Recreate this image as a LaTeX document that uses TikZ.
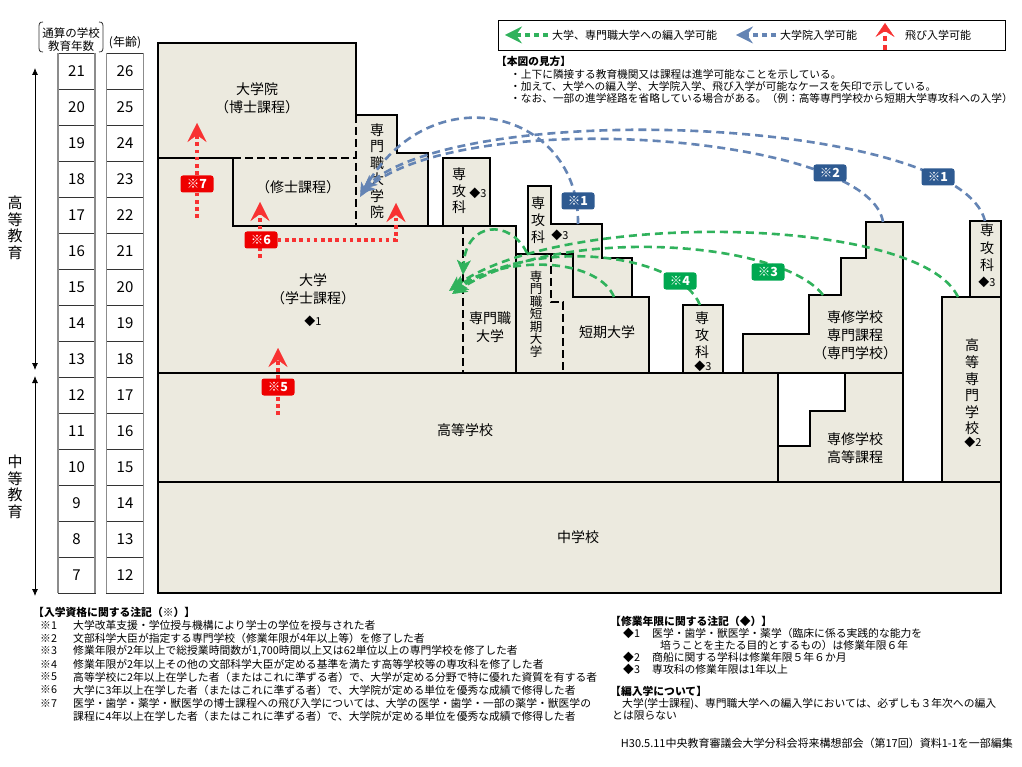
\documentclass[tikz,border=0pt]{standalone}
\usepackage{fontspec}
\setmainfont{Noto Sans CJK JP}
\usetikzlibrary{arrows.meta}
\definecolor{blockfill}{RGB}{236,234,223}
\definecolor{gArrow}{RGB}{48,178,92}
\definecolor{gLabel}{RGB}{0,168,80}
\definecolor{bArrow}{RGB}{100,132,180}
\definecolor{bLabel}{RGB}{46,90,145}
\definecolor{rArrow}{RGB}{248,50,50}
\definecolor{rLabel}{RGB}{238,0,0}
\newcommand{\myfs}[2]{\fontsize{#1}{#2}\selectfont}
\tikzset{
 blk/.style={fill=blockfill, draw=black, line width=2.8pt, line join=miter},
 sepline/.style={draw=black, line width=2.8pt},
 divd/.style={draw=black, line width=2.3pt, dash pattern=on 8pt off 4pt},
 lbl/.style={inner sep=0pt, align=center, font=\myfs{14}{18}},
 vlbl/.style={inner sep=0pt, align=center, font=\myfs{14}{16.5}},
 dia/.style={inner sep=0pt, font=\myfs{11}{12}},
 garr/.style={draw=gArrow, line width=2.6pt, dash pattern=on 8pt off 5pt, -{Stealth[length=15pt,width=14pt,inset=4pt,line width=0.4pt]}},
 barr/.style={draw=bArrow, line width=2.6pt, dash pattern=on 8pt off 5pt, -{Stealth[length=14pt,width=13pt,inset=4pt,line width=0.4pt]}},
 rline/.style={draw=rArrow, line width=3.6pt, dash pattern=on 3.6pt off 3.6pt},
 rarr/.style={rline, -{Stealth[length=19pt,width=19pt,inset=7pt,line width=0.4pt]}},
 lab/.style={rounded corners=2.5pt, text=white, font=\bfseries\myfs{12.5}{13}, minimum width=33pt, minimum height=17pt, inner sep=0pt},
 glab/.style={lab, fill=gLabel},
 blab/.style={lab, fill=bLabel},
 rlab/.style={lab, fill=rLabel},
 note/.style={anchor=west, inner sep=0pt, font=\myfs{10.8}{12}},
 tnote/.style={anchor=west, inner sep=0pt, font=\myfs{10.7}{12}},
 cell/.style={draw=black!80, line width=0.7pt, minimum width=37pt, minimum height=36pt, inner sep=0pt, font=\myfs{15}{16}},
 bigarr/.style={draw=black, line width=0.8pt, {Latex[length=7pt,width=6pt]}-{Latex[length=7pt,width=6pt]}},
 legg/.style={draw=gArrow, line width=4.5pt, dash pattern=on 5pt off 4pt, -{Stealth[length=17pt,width=17pt,inset=6pt,line width=0.4pt]}},
 legb/.style={draw=bArrow, line width=4.5pt, dash pattern=on 5pt off 4pt, -{Stealth[length=17pt,width=17pt,inset=6pt,line width=0.4pt]}},
 legr/.style={draw=rArrow, line width=4.5pt, dash pattern=on 5pt off 4pt, -{Stealth[length=14pt,width=19pt,inset=6pt,line width=0.4pt]}}
}
\begin{document}
\begin{tikzpicture}[x=1pt,y=-1pt]
\useasboundingbox (0,0) rectangle (1022,767);
\fill[white] (0,0) rectangle (1022,767);

% ---------- left scale ----------
\node[inner sep=0pt, align=center, font=\myfs{11.5}{13}] (hdr1) at (71,40) {通算の学校\\教育年数};
\draw[black!80, line width=0.8pt] (43,22) .. controls (39,22) and (39,24) .. (39,28) -- (39,46) .. controls (39,50) and (39,52) .. (43,52);
\draw[black!80, line width=0.8pt] (99,22) .. controls (103,22) and (103,24) .. (103,28) -- (103,46) .. controls (103,50) and (103,52) .. (99,52);
\node[inner sep=0pt, font=\myfs{12}{13}] (hdr2) at (125,43) {(年齢)};
\foreach \n in {7,...,21} {
  \pgfmathsetmacro{\yc}{53+(21-\n)*36+18}
  \pgfmathtruncatemacro{\ag}{\n+5}
  \node[cell] (y\n) at (76.5,\yc) {\n};
  \node[cell] (a\n) at (125,\yc) {\ag};
}
\draw[black!45, line width=1.6pt] (58,53) -- (58,593) (95,53) -- (95,593) (106.5,53) -- (106.5,593) (143.5,53) -- (143.5,593);
\coordinate (ha1) at (35,68); \coordinate (ha2) at (35,370);
\coordinate (ma1) at (35,376); \coordinate (ma2) at (35,596);
\draw[bigarr] (ha1) -- (ha2);
\draw[bigarr] (ma1) -- (ma2);
\node[vlbl, font=\myfs{15}{16.5}] (kt) at (15,228) {高\\等\\教\\育};
\node[vlbl, font=\myfs{15}{16.5}] (ct) at (15,487) {中\\等\\教\\育};

% ---------- blocks ----------
\path[blk] (158,43) -- (356,43) -- (356,115) -- (397,115) -- (397,153) -- (428,153) -- (428,226) -- (516,226) -- (516,373) -- (158,373) -- cycle;
\draw[sepline] (158,158) -- (233,158) -- (233,226) -- (428,226);
\draw[divd] (233,158) -- (356,158);
\draw[divd] (356,115) -- (356,226);
\draw[divd] (463,226) -- (463,373);
\path[blk] (443,158) rectangle (490,226);
\path[blk] (516,254) -- (573,254) -- (573,297) -- (649,297) -- (649,373) -- (516,373) -- cycle;
\path[blk] (528,186) -- (551,186) -- (551,224) -- (602,224) -- (602,258) -- (632,258) -- (632,297) -- (573,297) -- (573,254) -- (528,254) -- cycle;
\draw[divd] (551,254) -- (551,302) -- (563,302) -- (563,373);
\path[blk] (683,305) rectangle (723,373);
\path[blk] (743,373) -- (743,334) -- (809,334) -- (809,295) -- (841,295) -- (841,258) -- (866,258) -- (866,222) -- (903,222) -- (903,373) -- cycle;
\path[blk] (942,482) -- (942,297) -- (970,297) -- (970,221) -- (1001,221) -- (1001,482) -- cycle;
\draw[sepline] (970,297) -- (1001,297);
\path[blk] (158,373) rectangle (778,482);
\path[blk] (845,373) -- (903,373) -- (903,482) -- (778,482) -- (778,446) -- (810,446) -- (810,411) -- (845,411) -- cycle;
\path[blk] (158,482) rectangle (1001,593);

% ---------- block texts ----------
\node[lbl] (t1) at (257,98) {大学院\\（博士課程）};
\node[lbl] (t2) at (298,187) {（修士課程）};
\node[vlbl] (t3) at (377,171) {専\\門\\職\\大\\学\\院};
\node[vlbl] (t4) at (459,191) {専\\攻\\科};
\node[dia] (d4) at (478,193) {◆3};
\node[lbl] (t5) at (313,289) {大学\\（学士課程）};
\node[dia] (d5) at (313,321) {◆1};
\node[lbl] (t6) at (490,327) {専門職\\大学};
\node[vlbl, font=\myfs{14}{17}] (t7) at (538,220) {専\\攻\\科};
\node[dia] (d7) at (560,235) {◆3};
\node[vlbl, font=\myfs{12.5}{12.5}] (t8) at (536,314) {専\\門\\職\\短\\期\\大\\学};
\node[lbl] (t9) at (607,332) {短期大学};
\node[vlbl, font=\myfs{14}{17}] (t10) at (702,335) {専\\攻\\科};
\node[dia] (d10) at (703,366) {◆3};
\node[lbl] (t11) at (855,335) {専修学校\\専門課程\\（専門学校）};
\node[vlbl, font=\myfs{14}{17.5}] (t12) at (987,248) {専\\攻\\科};
\node[dia] (d12) at (987,282) {◆3};
\node[vlbl, font=\myfs{14}{16.6}] (t13) at (972,387) {高\\等\\専\\門\\学\\校};
\node[dia] (d13) at (973,442) {◆2};
\node[lbl] (t14) at (465,430) {高等学校};
\node[lbl] (t15) at (855,448) {専修学校\\高等課程};
\node[lbl] (t16) at (578,537) {中学校};

% ---------- blue arrows ----------
\coordinate (bs1) at (578,224); \coordinate (be1) at (360,197);
\coordinate (bs2) at (883,222); \coordinate (be2) at (361,193);
\coordinate (bs3) at (985,221); \coordinate (be3) at (363,189);
\draw[barr] (bs1) .. controls (580,110) and (430,72) .. (be1);
\draw[barr] (bs2) .. controls (870,135) and (470,105) .. (be2);
\draw[barr] (bs3) .. controls (960,118) and (470,98) .. (be3);
\node[blab] (b1) at (578,201) {※1};
\node[blab] (b2) at (830,173) {※2};
\node[blab] (b3) at (938,177) {※1};

% ---------- green arrows ----------
\coordinate (gs1) at (527,253); \coordinate (ge1) at (463,275);
\coordinate (gs2) at (614,297); \coordinate (ge2) at (451,289);
\coordinate (gs3) at (700,305); \coordinate (ge3) at (453,292);
\coordinate (gs4) at (823,295); \coordinate (ge4) at (452,294);
\coordinate (gs5) at (958,297); \coordinate (ge5) at (449,291);
\draw[garr] (gs1) .. controls (510,218) and (466,222) .. (ge1);
\draw[garr] (gs2) .. controls (600,262) and (520,252) .. (ge2);
\draw[garr] (gs3) .. controls (680,255) and (540,235) .. (ge3);
\draw[garr] (gs4) .. controls (780,240) and (560,225) .. (ge4);
\draw[garr] (gs5) .. controls (920,215) and (560,210) .. (ge5);
\node[glab] (g4) at (680,281) {※4};
\node[glab] (g3) at (768,272) {※3};

% ---------- red jump arrows ----------
\coordinate (r7s) at (197,218); \coordinate (r7e) at (197,123);
\draw[rarr] (r7s) -- (r7e);
\node[rlab] (r7) at (197,184) {※7};
\coordinate (r6s) at (260,258); \coordinate (r6e) at (260,202);
\coordinate (r6c) at (396,240); \coordinate (r6f) at (396,203);
\draw[rarr] (r6s) -- (r6e);
\node[rlab] (r6) at (261,240) {※6};
\draw[rarr] (r6.east) -- (r6c) -- (r6f);
\coordinate (r5s) at (278,415); \coordinate (r5e) at (278,348);
\draw[rarr] (r5s) -- (r5e);
\node[rlab] (r5) at (278,387) {※5};

% ---------- legend ----------
\node[draw=black, line width=1pt, minimum width=507pt, minimum height=30pt, inner sep=0pt, anchor=north west] (leg) at (498,20) {};
\coordinate (lg1) at (548,35); \coordinate (lg2) at (505,35);
\draw[legg] (lg1) -- (lg2);
\node[anchor=west, inner sep=0pt, font=\myfs{11}{12}] (lt1) at (552,35) {大学、専門職大学への編入学可能};
\coordinate (lb1) at (776,35); \coordinate (lb2) at (736,35);
\draw[legb] (lb1) -- (lb2);
\node[anchor=west, inner sep=0pt, font=\myfs{11}{12}] (lt2) at (780,35) {大学院入学可能};
\coordinate (lr1) at (885,50); \coordinate (lr2) at (885,23);
\draw[legr] (lr1) -- (lr2);
\node[anchor=west, inner sep=0pt, font=\myfs{11}{12}] (lt3) at (905,35) {飛び入学可能};

\node[tnote, font=\bfseries\myfs{10.7}{12}] (v0) at (496,61) {【本図の見方】};
\node[tnote] (v1) at (510,74) {・上下に隣接する教育機関又は課程は進学可能なことを示している。};
\node[tnote] (v2) at (510,86) {・加えて、大学への編入学、大学院入学、飛び入学が可能なケースを矢印で示している。};
\node[tnote] (v3) at (510,98) {・なお、一部の進学経路を省略している場合がある。（例：高等専門学校から短期大学専攻科への入学）};

% ---------- bottom notes ----------
\node[note, font=\bfseries\myfs{10.8}{12}] (n0) at (33,612) {【入学資格に関する注記（※）】};
\node[note] (m1) at (40,625) {※1}; \node[note] (n1) at (73,625) {大学改革支援・学位授与機構により学士の学位を授与された者};
\node[note] (m2) at (40,638) {※2}; \node[note] (n2) at (73,638) {文部科学大臣が指定する専門学校（修業年限が4年以上等）を修了した者};
\node[note] (m3) at (40,651) {※3}; \node[note] (n3) at (73,651) {修業年限が2年以上で総授業時間数が1,700時間以上又は62単位以上の専門学校を修了した者};
\node[note] (m4) at (40,664) {※4}; \node[note] (n4) at (73,664) {修業年限が2年以上その他の文部科学大臣が定める基準を満たす高等学校等の専攻科を修了した者};
\node[note] (m5) at (40,677) {※5}; \node[note] (n5) at (73,677) {高等学校に2年以上在学した者（またはこれに準ずる者）で、大学が定める分野で特に優れた資質を有する者};
\node[note] (m6) at (40,690) {※6}; \node[note] (n6) at (73,690) {大学に3年以上在学した者（またはこれに準ずる者）で、大学院が定める単位を優秀な成績で修得した者};
\node[note] (m7) at (40,703) {※7}; \node[note] (n7) at (73,703) {医学・歯学・薬学・獣医学の博士課程への飛び入学については、大学の医学・歯学・一部の薬学・獣医学の};
\node[note] (n8) at (73,716) {課程に4年以上在学した者（またはこれに準ずる者）で、大学院が定める単位を優秀な成績で修得した者};

\node[note, font=\bfseries\myfs{10.8}{12}] (q0) at (610,621) {【修業年限に関する注記（◆）】};
\node[note] (p1) at (623,633) {◆1}; \node[note] (q1) at (652,633) {医学・歯学・獣医学・薬学（臨床に係る実践的な能力を};
\node[note] (q1b) at (660,645) {培うことを主たる目的とするもの）は修業年限６年};
\node[note] (p2) at (623,657) {◆2}; \node[note] (q2) at (652,657) {商船に関する学科は修業年限５年６か月};
\node[note] (p3) at (623,669) {◆3}; \node[note] (q3) at (652,669) {専攻科の修業年限は1年以上};
\node[note, font=\bfseries\myfs{10.8}{12}] (q4) at (610,691) {【編入学について】};
\node[note] (q5) at (622,704) {大学(学士課程)、専門職大学への編入学においては、必ずしも３年次への編入};
\node[note] (q6) at (612,716) {とは限らない};
\node[inner sep=0pt, anchor=east, font=\myfs{11}{12}] (src) at (1013,743) {H30.5.11中央教育審議会大学分科会将来構想部会（第17回）資料1-1を一部編集};
\end{tikzpicture}
\end{document}
